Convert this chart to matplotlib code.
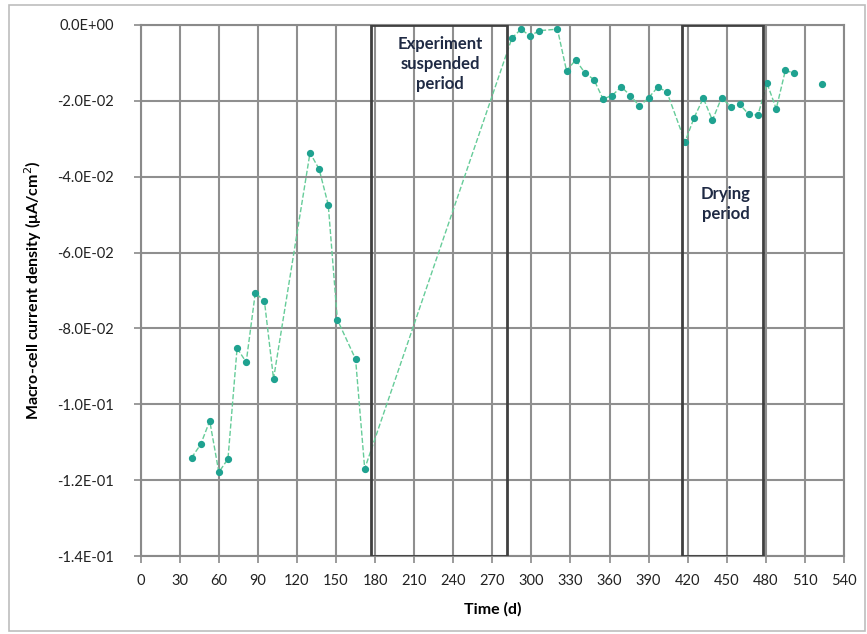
import numpy as np
import matplotlib.pyplot as plt
from matplotlib.patches import Rectangle
from matplotlib.ticker import FuncFormatter

plt.rcParams['font.family'] = ['Lato', 'DejaVu Sans']

# measurement days and macro-cell current density (uA/cm2)
days = [39, 46, 53, 60, 67, 74, 81, 88, 95, 102, 130, 137, 144, 151, 165, 172,
        285, 292, 299, 306, 320, 327, 334, 341, 348, 355, 362, 369, 376, 383,
        390, 397, 404, 418, 425, 432, 439, 446, 453, 460, 467, 474, 481, 488,
        495, 502]
density = [-0.1141, -0.1106, -0.1044, -0.1179, -0.1144, -0.0852, -0.0889,
           -0.0706, -0.0728, -0.0933, -0.0337, -0.0380, -0.0474, -0.0777,
           -0.0881, -0.1170, -0.0035, -0.0011, -0.0029, -0.0015, -0.0011,
           -0.0121, -0.0092, -0.0126, -0.0144, -0.0195, -0.0186, -0.0163,
           -0.0186, -0.0214, -0.0192, -0.0164, -0.0176, -0.0308, -0.0244,
           -0.0193, -0.0251, -0.0192, -0.0215, -0.0209, -0.0236, -0.0237,
           -0.0154, -0.0221, -0.0120, -0.0127]
# last reading, not joined to the rest
last_day = [523]
last_density = [-0.0156]

# shaded periods (start, end) in days
suspended = (177, 281)
drying = (416, 478)

xticks = np.arange(0, 541, 30)
yticks = np.arange(-0.14, 0.001, 0.02)

fig = plt.figure(figsize=(8.67, 6.34), dpi=100)
ax = fig.add_axes([0.1623, 0.123, 0.8111, 0.8376])

ax.plot(days, density, linestyle='--', color='#66cc99', lw=1.0, zorder=3)
ax.plot(days + last_day, density + last_density, linestyle='none', marker='o',
        markersize=4.2, color='#1fa290', zorder=4)

for start, end in (suspended, drying):
    ax.add_patch(Rectangle((start, -0.14), end - start, 0.14, fill=False,
                           edgecolor='#404040', lw=2, zorder=5))

ax.text(230, -0.003, 'Experiment\nsuspended\nperiod', ha='center', va='top',
        fontsize=12, fontweight='bold', color='#1f2a44', linespacing=1.3,
        zorder=6)
ax.text(449, -0.0425, 'Drying\nperiod', ha='center', va='top',
        fontsize=12, fontweight='bold', color='#1f2a44', linespacing=1.3,
        zorder=6)

ax.set_xlim(0, 540)
ax.set_ylim(-0.14, 0)
ax.set_xticks(xticks)
ax.set_yticks(yticks)
ax.yaxis.set_major_formatter(FuncFormatter(
    lambda v, p: '0.0E+00' if abs(v) < 1e-9 else f'{v:.1E}'))
ax.grid(True, color='#8f8f8f', lw=1.5)
ax.set_axisbelow(True)
for s in ax.spines.values():
    s.set_color('#8a8a8a')
    s.set_linewidth(1.5)
ax.tick_params(axis='both', labelsize=10.5, colors='#8a8a8a', length=5,
               width=1.2, labelcolor='#222222')
ax.tick_params(axis='y', pad=14)
ax.tick_params(axis='x', pad=8)

ax.set_xlabel('Time (d)', fontsize=11.5, fontweight='bold', labelpad=10)
ax.set_ylabel('Macro-cell current density (μA/cm$^2$)', fontsize=11.5,
              fontweight='bold', labelpad=10)

fig.add_artist(Rectangle((9 / 867, 3 / 634), 856 / 867, 626 / 634,
                         transform=fig.transFigure, fill=False,
                         edgecolor='#bdbdbd', lw=1.2))

fig.savefig('out.png', dpi=100)
